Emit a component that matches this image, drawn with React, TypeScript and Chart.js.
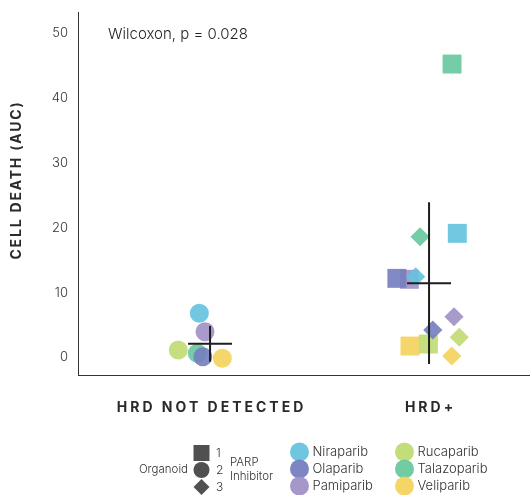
import React, { useEffect, useRef } from "react";
import { Chart, registerables } from "chart.js";
Chart.register(...registerables);

// ---- data ----
const groups = ["HRD NOT DETECTED", "HRD+"];
const drugs = ["Niraparib", "Olaparib", "Pamiparib", "Rucaparib", "Talazoparib", "Veliparib"];
const drugColors = ["#66c3de", "#7680bf", "#a191c7", "#c1db74", "#69c99f", "#f4d35e"];
const organoids = ["1", "2", "3"];
const organoidStyles = ["rect", "circle", "rectRot"];
const organoidRadius = [13.4, 9.5, 9.6];

// HRD NOT DETECTED group
const notDetectedDrug = ["Niraparib", "Pamiparib", "Rucaparib", "Talazoparib", "Olaparib", "Veliparib"];
const notDetectedOrganoid = [2, 2, 2, 2, 2, 2];
const notDetectedJitter = [-0.049, -0.023, -0.145, -0.058, -0.033, 0.056];
const notDetectedAUC = [6.82, 3.98, 1.16, 0.65, 0.12, -0.12];

// HRD+ group
const hrdPosDrug = ["Talazoparib", "Niraparib", "Talazoparib", "Olaparib", "Niraparib", "Pamiparib", "Pamiparib", "Olaparib", "Rucaparib", "Veliparib", "Rucaparib", "Veliparib"];
const hrdPosOrganoid = [1, 1, 3, 1, 3, 1, 3, 3, 3, 1, 1, 3];
const hrdPosJitter = [0.105, 0.129, -0.041, -0.147, -0.061, -0.09, 0.114, 0.017, 0.138, -0.087, -0.003, 0.104];
const hrdPosAUC = [45.27, 19.15, 18.63, 12.21, 12.46, 12.06, 6.29, 4.24, 3.12, 1.77, 2.08, 0.23];

const yTicks = [0, 10, 20, 30, 40, 50];
const statText = "Wilcoxon, p = 0.028";
const yTitle = "CELL DEATH (AUC)";

function hexA(hex: string, a: number) {
  const n = parseInt(hex.slice(1), 16);
  return `rgba(${(n >> 16) & 255},${(n >> 8) & 255},${n & 255},${a})`;
}

function buildDatasets() {
  return drugs.map((drug, di) => {
    const pts: any[] = [];
    const addGroup = (gi: number, dl: string[], org: number[], jit: number[], vals: number[]) => {
      dl.forEach((d, i) => {
        if (d === drug) pts.push({ x: gi + 1 + jit[i], y: vals[i], org: org[i] });
      });
    };
    addGroup(0, notDetectedDrug, notDetectedOrganoid, notDetectedJitter, notDetectedAUC);
    addGroup(1, hrdPosDrug, hrdPosOrganoid, hrdPosJitter, hrdPosAUC);
    return {
      label: drug,
      data: pts,
      backgroundColor: hexA(drugColors[di], 0.92),
      borderWidth: 0,
      pointStyle: pts.map((p) => organoidStyles[p.org - 1]),
      pointRadius: pts.map((p) => organoidRadius[p.org - 1]),
      pointHoverRadius: pts.map((p) => organoidRadius[p.org - 1]),
    };
  });
}

function meanSd(vals: number[]) {
  const m = vals.reduce((a, b) => a + b, 0) / vals.length;
  const v = vals.reduce((a, b) => a + (b - m) * (b - m), 0) / (vals.length - 1);
  return [m, Math.sqrt(v)];
}

const FONT = "Inter, 'Open Sans', sans-serif";

const overlayPlugin = {
  id: "overlay",
  afterDatasetsDraw(chart: any) {
    const ctx = chart.ctx;
    const xs = chart.scales.x;
    const ys = chart.scales.y;
    ctx.save();
    ctx.strokeStyle = "#1e1e1e";
    ctx.lineWidth = 2;
    [notDetectedAUC, hrdPosAUC].forEach((vals, gi) => {
      const [m, sd] = meanSd(vals);
      const cx = xs.getPixelForValue(gi + 1);
      const my = ys.getPixelForValue(m);
      ctx.beginPath();
      ctx.moveTo(cx, ys.getPixelForValue(m + sd));
      ctx.lineTo(cx, ys.getPixelForValue(m - sd));
      ctx.moveTo(cx - 22, my);
      ctx.lineTo(cx + 22, my);
      ctx.stroke();
    });
    ctx.restore();
  },
  afterDraw(chart: any) {
    const ctx = chart.ctx;
    const xs = chart.scales.x;
    ctx.save();
    // stat text
    ctx.fillStyle = "#222";
    ctx.font = `300 15px ${FONT}`;
    ctx.textAlign = "left";
    ctx.textBaseline = "middle";
    ctx.fillText(statText, 108, 34);

    // y title
    ctx.save();
    ctx.translate(17, 181);
    ctx.rotate(-Math.PI / 2);
    ctx.font = `bold 14px ${FONT}`;
    (ctx as any).letterSpacing = "1.8px";
    ctx.textAlign = "center";
    ctx.fillStyle = "#2a2a2a";
    ctx.fillText(yTitle, 1, 0);
    ctx.restore();

    // x group labels
    ctx.save();
    ctx.font = `bold 14px ${FONT}`;
    (ctx as any).letterSpacing = "3px";
    ctx.textAlign = "center";
    ctx.textBaseline = "middle";
    ctx.fillStyle = "#2a2a2a";
    groups.forEach((g, i) => {
      ctx.fillText(g, xs.getPixelForValue(i + 1) + 1.5, 408);
    });
    ctx.restore();

    // legend: organoid shapes
    ctx.fillStyle = "#333";
    ctx.textBaseline = "middle";
    ctx.font = `300 11.5px ${FONT}`;
    ctx.textAlign = "right";
    ctx.fillText("Organoid", 188, 470);
    ctx.textAlign = "left";
    const rowsY = [453, 470, 487];
    organoids.forEach((o, i) => {
      const y = rowsY[i];
      ctx.fillStyle = "#505050";
      ctx.beginPath();
      if (i === 0) ctx.rect(193.5, y - 8, 16, 16);
      else if (i === 1) ctx.arc(201.5, y, 8, 0, Math.PI * 2);
      else {
        ctx.moveTo(201.5, y - 8);
        ctx.lineTo(209.5, y);
        ctx.lineTo(201.5, y + 8);
        ctx.lineTo(193.5, y);
        ctx.closePath();
      }
      ctx.fill();
      ctx.fillStyle = "#333";
      ctx.font = `300 12px ${FONT}`;
      ctx.fillText(o, 216, y);
    });
    ctx.font = `300 11.5px ${FONT}`;
    ctx.fillText("PARP", 230, 463);
    ctx.fillText("Inhibitor", 230, 477);

    // legend: drugs
    const colX = [299.5, 404.5];
    drugs.forEach((d, i) => {
      const col = Math.floor(i / 3);
      const y = rowsY[i % 3] - 1;
      ctx.fillStyle = hexA(drugColors[i], 0.95);
      ctx.beginPath();
      ctx.arc(colX[col], y, 9.5, 0, Math.PI * 2);
      ctx.fill();
      ctx.fillStyle = "#333";
      ctx.font = `300 13px ${FONT}`;
      ctx.fillText(d, colX[col] + 13, y);
    });
    ctx.restore();
  },
};

export default function App() {
  const ref = useRef<HTMLCanvasElement | null>(null);
  useEffect(() => {
    if (!ref.current) return;
    const chart = new Chart(ref.current, {
      type: "scatter",
      data: { datasets: buildDatasets() as any },
      plugins: [overlayPlugin],
      options: {
        animation: false,
        responsive: true,
        maintainAspectRatio: false,
        layout: { autoPadding: false, padding: { top: 12, right: 0, left: 0, bottom: 0 } },
        plugins: { legend: { display: false }, tooltip: { enabled: false } },
        scales: {
          x: {
            type: "linear",
            min: 0.397,
            max: 2.461,
            grid: { display: false, drawTicks: false },
            border: { display: true, color: "#333", width: 1 },
            ticks: { display: false },
            afterFit: (s: any) => {
              s.height = 120;
              s.paddingLeft = 0;
              s.paddingRight = 0;
            },
          },
          y: {
            type: "linear",
            min: -2.7,
            max: 53.3,
            grid: { display: false, drawTicks: false },
            border: { display: true, color: "#333", width: 1 },
            afterBuildTicks: (s: any) => {
              s.ticks = yTicks.map((v) => ({ value: v }));
            },
            ticks: {
              padding: 10,
              color: "#333",
              font: { family: FONT, size: 13, weight: "300" },
            },
            afterFit: (s: any) => {
              s.width = 78;
              s.paddingTop = 0;
              s.paddingBottom = 0;
            },
          },
        },
      } as any,
    });
    return () => chart.destroy();
  }, []);
  return (
    <div style={{ position: "absolute", left: 0, top: 0, width: 530, height: 495 }}>
      <canvas ref={ref} />
    </div>
  );
}
